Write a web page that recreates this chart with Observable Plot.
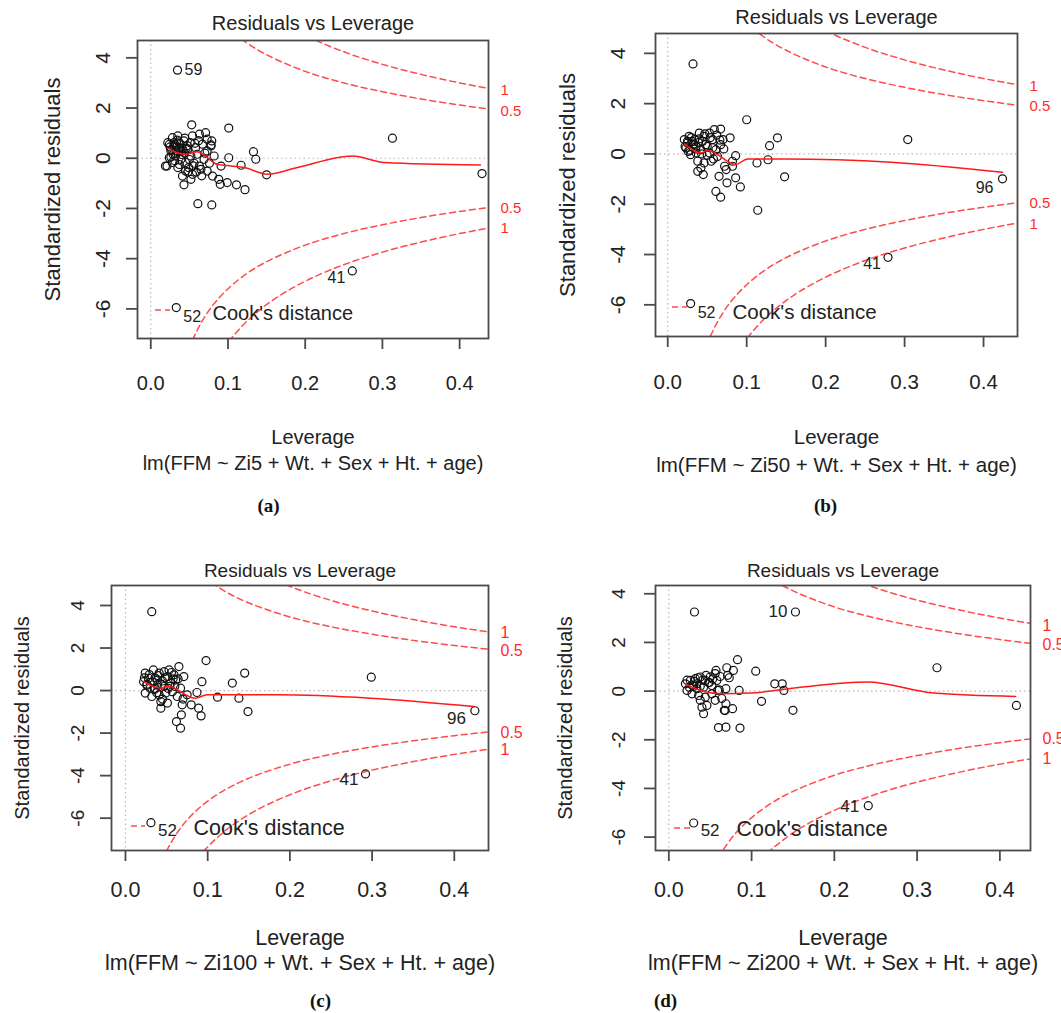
<!DOCTYPE html>
<html><head><meta charset="utf-8">
<script src="https://cdn.jsdelivr.net/npm/d3@7"></script>
<script src="https://cdn.jsdelivr.net/npm/@observablehq/plot@0.6"></script>
<style>
body{margin:0;background:#fff;}
#wrap{position:relative;width:1061px;height:1013px;overflow:hidden;background:#fff;}
.panel{position:absolute;}
</style></head><body><div id="wrap"></div>
<script>
// ---------- shared axis ticks ----------
const xTicks = [0, 0.1, 0.2, 0.3, 0.4];
const yTicks = [-6, -4, -2, 0, 2, 4];

// ---------- Cook's distance contours ----------
const cookH    = [0.045,0.05,0.06,0.07,0.08,0.09,0.10,0.11,0.12,0.14,0.16,0.18,0.20,0.25,0.30,0.35,0.40,0.445];
const cookHalf = [7.98,7.55,6.86,6.31,5.87,5.51,5.20,4.93,4.69,4.29,3.97,3.70,3.46,3.00,2.65,2.36,2.12,1.93];
const cookOne  = [11.29,10.68,9.70,8.92,8.31,7.79,7.35,6.97,6.63,6.07,5.61,5.23,4.90,4.24,3.74,3.34,3.00,2.74];
const cookLabels = ["1", "0.5", "0.5", "1"];
const cookLabelY = [2.74, 1.93, -1.93, -2.74];

// ---------- panel (a) ----------
const levA = [0.0346,0.053,0.101,0.313,0.133,0.136,0.101,0.117,0.150,0.429,0.043,0.061,0.079,0.099,0.111,0.122,0.090,0.261,0.033,0.078,
  0.021,0.022,0.028,0.035,0.043,0.054,0.063,0.071,0.073,0.078,0.067,0.058,0.048,0.039,0.030,0.026,0.032,0.039,0.045,0.049,
  0.045,0.054,0.065,0.073,0.080,0.088,0.069,0.082,0.091,0.035,0.041,0.052,0.063,0.024,0.028,0.060,0.052,0.073,0.079,0.019,
  0.025,0.031,0.037,0.042,0.047,0.036,0.044,0.050,0.057,0.033,0.040,0.046,0.056,0.062,
  0.024,0.027,0.030,0.033,0.036,0.038,0.041,0.029,0.034,0.026,0.031,0.037,0.044,0.048,0.051,0.055,0.059,0.066,0.070,0.076];
const resA = [3.51,1.33,1.20,0.80,0.26,-0.04,0.02,-0.28,-0.66,-0.61,-1.06,-1.81,-1.86,-0.97,-1.06,-1.25,-1.04,-4.49,-5.95,0.53,
  -0.31,0.62,0.82,0.89,0.69,0.89,0.96,1.02,0.76,0.49,0.56,0.42,0.36,0.29,0.49,0.29,0.09,-0.04,-0.17,-0.37,
  -0.51,-0.64,-0.44,-0.51,-0.71,-0.84,-0.04,0.09,-0.31,-0.37,-0.71,-0.84,-0.31,0.02,-0.17,0.16,0.09,0.29,0.69,-0.31,
  0.45,0.55,0.40,0.30,0.50,0.65,0.20,-0.05,0.60,0.30,0.15,0.40,-0.20,0.70,
  0.55,0.35,0.62,0.45,0.25,0.58,0.38,0.15,0.72,0.05,-0.10,-0.25,0.80,-0.55,0.62,-0.30,-0.55,-0.70,0.20,-0.20];
const loLevA = [0.022,0.034,0.045,0.060,0.086,0.104,0.121,0.151,0.190,0.261,0.302,0.427];
const loResA = [0.40,0.22,0.16,0.26,-0.24,-0.31,-0.37,-0.64,-0.37,0.09,-0.17,-0.27];
const idA    = ["59","52","41"];
const idLevA = [0.0346,0.033,0.261];
const idResA = [3.51,-5.95,-4.49];

// ---------- panel (b) ----------
const levB = [0.032,0.100,0.139,0.129,0.127,0.113,0.148,0.114,0.304,0.424,0.279,0.029,0.061,0.067,0.092,0.075,0.065,0.086,0.086,0.079,
  0.067,0.072,0.082,0.045,0.038,0.021,0.023,0.027,0.032,0.036,0.040,0.046,0.053,0.059,0.057,0.048,0.042,0.053,0.061,0.067,
  0.063,0.055,0.046,0.038,0.029,0.025,0.034,0.042,0.074,0.082,0.070,0.026,0.031,0.035,0.044,0.050,0.039,0.057,
  0.022,0.025,0.028,0.030,0.033,0.036,0.040,0.043,0.047,0.050,0.054,0.058,0.062,0.066,0.071];
const resB = [3.58,1.36,0.64,0.33,-0.23,-0.36,-0.91,-2.24,0.57,-0.99,-4.11,-5.95,-1.49,-1.72,-1.31,-1.15,-0.89,-0.95,-0.07,0.64,
  0.99,-0.49,-0.29,-0.82,-0.69,0.57,0.24,0.70,0.37,0.04,0.83,0.70,0.83,0.97,0.57,0.37,0.17,0.04,0.17,0.37,
  -0.10,-0.29,-0.36,-0.29,-0.03,0.44,0.57,-0.56,-0.62,-0.49,0.57,0.10,0.50,0.20,0.50,-0.05,0.45,0.25,
  0.30,0.50,0.15,0.65,0.40,0.30,0.60,0.00,0.80,0.30,0.65,-0.20,0.75,0.55,0.20];
const loLevB = [0.021,0.042,0.051,0.086,0.101,0.148,0.283,0.424];
const loResB = [0.40,0.04,0.14,-0.42,-0.20,-0.20,-0.33,-0.73];
const idB    = ["96","41","52"];
const idLevB = [0.424,0.279,0.029];
const idResB = [-0.99,-4.11,-5.95];

// ---------- panel (c) ----------
const levC = [0.032,0.098,0.145,0.130,0.138,0.112,0.149,0.093,0.092,0.089,0.087,0.080,0.068,0.062,0.067,0.069,0.065,0.071,0.299,0.425,
  0.292,0.031,0.022,0.024,0.028,0.034,0.041,0.047,0.053,0.059,0.061,0.055,0.047,0.039,0.030,0.024,0.032,0.041,0.049,0.057,
  0.063,0.043,0.043,0.051,0.075,0.039,0.051,0.067,0.026,0.036,0.045,0.054,0.035,0.058,
  0.023,0.026,0.029,0.033,0.036,0.040,0.044,0.048,0.052,0.056,0.060,0.064,0.070,0.045,0.038];
const resC = [3.71,1.41,0.82,0.35,-0.36,-0.31,-0.99,0.42,-1.19,-0.83,-0.09,-0.67,-1.14,-1.46,-1.77,-0.67,1.13,0.66,0.63,-0.95,
  -3.92,-6.21,0.42,0.82,0.58,0.97,0.82,0.89,0.97,0.74,0.50,0.35,0.19,0.27,0.11,-0.12,-0.28,-0.20,-0.12,-0.05,
  -0.28,-0.52,-0.83,-0.59,-0.20,0.50,0.66,0.11,0.30,0.60,0.45,0.20,0.05,0.55,
  0.60,0.25,0.75,0.40,0.10,0.70,0.30,0.60,0.10,0.85,0.20,0.55,-0.40,-0.40,-0.10];
const loLevC = [0.022,0.043,0.051,0.085,0.099,0.185,0.298,0.424];
const loResC = [0.42,0.11,0.22,-0.36,-0.20,-0.20,-0.36,-0.75];
const idC    = ["96","41","52"];
const idLevC = [0.425,0.292,0.031];
const idResC = [-0.95,-3.92,-6.21];

// ---------- panel (d) ----------
const levD = [0.031,0.153,0.083,0.105,0.324,0.128,0.137,0.139,0.112,0.150,0.420,0.241,0.030,0.086,0.069,0.060,0.042,0.067,0.077,0.069,
  0.085,0.069,0.078,0.070,0.071,0.020,0.022,0.026,0.032,0.038,0.044,0.050,0.056,0.058,0.052,0.042,0.034,0.028,0.036,0.044,
  0.038,0.046,0.052,0.059,0.034,0.040,0.056,0.048,0.030,0.062,
  0.022,0.025,0.028,0.031,0.035,0.038,0.041,0.045,0.049,0.053,0.057,0.061,0.064,0.068,0.073];
const resD = [3.25,3.25,1.29,0.82,0.96,0.30,0.30,0.03,-0.42,-0.79,-0.59,-4.71,-5.42,-1.52,-1.48,-1.50,-0.93,-0.79,-0.72,-0.52,
  0.03,0.10,0.85,0.96,0.65,0.30,0.03,0.44,0.51,0.58,0.44,0.58,0.72,0.44,0.23,0.16,0.10,-0.11,-0.18,-0.25,
  -0.38,-0.59,-0.11,0.03,0.30,-0.66,-0.38,0.35,0.20,0.60,
  0.45,0.15,0.25,0.40,0.55,0.20,0.45,0.65,0.35,0.50,0.85,0.05,-0.30,-0.80,0.55];
const loLevD = [0.020,0.038,0.063,0.099,0.159,0.240,0.320,0.419];
const loResD = [0.30,0.03,-0.11,-0.08,0.16,0.37,-0.08,-0.22];
const idD    = ["10","41","52"];
const idLevD = [0.153,0.241,0.030];
const idResD = [3.25,-4.71,-5.42];

const title = "Residuals vs Leverage";
const xTitle = "Leverage";
const yTitle = "Standardized residuals";
const legendText = "Cook's distance";
const formulas = ["lm(FFM ~ Zi5 + Wt. + Sex + Ht. + age)", "lm(FFM ~ Zi50 + Wt. + Sex + Ht. + age)",
                  "lm(FFM ~ Zi100 + Wt. + Sex + Ht. + age)", "lm(FFM ~ Zi200 + Wt. + Sex + Ht. + age)"];
const tags = ["(a)", "(b)", "(c)", "(d)"];

// ---------- layout (pixels) ----------
const panels = [
  {lev: levA, res: resA, lx: loLevA, ly: loResA, ids: idA, idx: idLevA, idy: idResA, formula: formulas[0], tag: tags[0],
   left: 0, top: 0, W: 530, H: 530, mL: 137, mR: 42, mT: 40, mB: 192,
   xDom: [-0.0172, 0.4374], yDom: [-7.18, 4.69],
   hf: 20, vf: 22, tf: 20, idf: 16, cf: 15,
   titleDy: -17, xlabDy: 45, levDy: 99, subDy: 125, tagDx: 131, tagDy: 167, ylabDx: -85, ytickDx: -34,
   legX1: 18, legX2: 33, legY: -28, legTx: 75, legTy: -25,
   idOff: [[7, 0, "start"], [7, 9, "start"], [-7, 7, "end"]]},
  {lev: levB, res: resB, lx: loLevB, ly: loResB, ids: idB, idx: idLevB, idy: idResB, formula: formulas[1], tag: tags[1],
   left: 530, top: 0, W: 531, H: 530, mL: 125, mR: 44, mT: 33, mB: 194,
   xDom: [-0.0155, 0.443], yDom: [-7.26, 4.79],
   hf: 20.5, vf: 22, tf: 20, idf: 16, cf: 15,
   titleDy: -16, xlabDy: 46, levDy: 101, subDy: 129, tagDx: 170, tagDy: 169, ylabDx: -88, ytickDx: -37,
   legX1: 17, legX2: 32, legY: -29, legTx: 77, legTy: -24,
   idOff: [[-9, 9, "end"], [-7, 7, "end"], [7, 9, "start"]]},
  {lev: levC, res: resC, lx: loLevC, ly: loResC, ids: idC, idx: idLevC, idy: idResC, formula: formulas[2], tag: tags[2],
   left: 0, top: 530, W: 530, H: 483, mL: 111, mR: 42, mT: 55, mB: 163,
   xDom: [-0.017, 0.4416], yDom: [-7.52, 4.94],
   hf: 21.5, vf: 20, tf: 19, idf: 17, cf: 16,
   titleDy: -15, xlabDy: 40, levDy: 88, subDy: 113, tagDx: 209, tagDy: 150, ylabDx: -89, ytickDx: -34,
   legX1: 20, legX2: 34, legY: -24, legTx: 82, legTy: -22,
   idOff: [[-9, 8, "end"], [-7, 6, "end"], [7, 8, "start"]]},
  {lev: levD, res: resD, lx: loLevD, ly: loResD, ids: idD, idx: idLevD, idy: idResD, formula: formulas[3], tag: tags[3],
   left: 530, top: 530, W: 531, H: 483, mL: 125, mR: 31, mT: 55, mB: 163,
   xDom: [-0.0161, 0.437], yDom: [-6.55, 4.34],
   hf: 21.5, vf: 20, tf: 19, idf: 17, cf: 16,
   titleDy: -15, xlabDy: 40, levDy: 88, subDy: 113, tagDx: 10, tagDy: 150, ylabDx: -90, ytickDx: -37,
   legX1: 19, legX2: 35, legY: -22, legTx: 81, legTy: -21,
   idOff: [[-8, 0, "end"], [-9, 1, "end"], [7, 8, "start"]]}
];

const FONT = "'Liberation Sans', Arial, sans-serif";
const INK = "#222";
const BOX = "#4a4a4a";
const RED = "#ff2b2b";

function makePanel(p) {
  const pts = p.lev.map((x, i) => ({x, y: p.res[i]}));
  const lo = p.lx.map((x, i) => ({x, y: p.ly[i]}));
  const cook = cookH.map((h, i) => ({h, a: cookHalf[i], b: cookOne[i]}));
  const dashStyle = {stroke: RED, strokeWidth: 1.5, strokeDasharray: "6,4", strokeOpacity: 0.85, curve: "monotone-x", clip: true};
  const idMarks = p.ids.map((lab, i) => Plot.text([lab], {
    x: () => p.idx[i], y: () => p.idy[i], text: d => d,
    dx: p.idOff[i][0], dy: p.idOff[i][1], textAnchor: p.idOff[i][2], fontSize: p.idf, fill: INK}));
  const mid = {lineAnchor: "middle"};
  const svg = Plot.plot({
    width: p.W, height: p.H,
    marginLeft: p.mL, marginRight: p.mR, marginTop: p.mT, marginBottom: p.mB,
    x: {domain: p.xDom}, y: {domain: p.yDom},
    style: {fontFamily: FONT, color: INK, background: "transparent", overflow: "visible"},
    marks: [
      Plot.ruleY([0], {stroke: "#b8b8b8", strokeDasharray: "1.5,3", strokeWidth: 1.2}),
      Plot.ruleX([0], {stroke: "#b8b8b8", strokeDasharray: "1.5,3", strokeWidth: 1.2}),
      Plot.dot(pts, {x: "x", y: "y", r: 4, stroke: "#111", strokeWidth: 1.2, fill: "none"}),
      Plot.line(lo, {x: "x", y: "y", stroke: "#ff1a1a", strokeWidth: 1.5, curve: "monotone-x"}),
      Plot.line(cook, {x: "h", y: "a", ...dashStyle}),
      Plot.line(cook, {x: "h", y: d => -d.a, ...dashStyle}),
      Plot.line(cook, {x: "h", y: "b", ...dashStyle}),
      Plot.line(cook, {x: "h", y: d => -d.b, ...dashStyle}),
      Plot.text(cookLabelY, {y: d => d, text: (d, i) => cookLabels[i], frameAnchor: "right", textAnchor: "start", ...mid, dx: 12, dy: 1, fill: RED, fontSize: p.cf}),
      Plot.frame({stroke: BOX, strokeWidth: 1.8}),
      Plot.axisX({ticks: xTicks, tickSize: 11, tickFormat: () => "", label: null, stroke: BOX, strokeWidth: 1.8}),
      Plot.axisY({ticks: yTicks, tickSize: 11, tickFormat: () => "", label: null, stroke: BOX, strokeWidth: 1.8}),
      Plot.text(xTicks, {x: d => d, frameAnchor: "bottom", ...mid, dy: p.xlabDy, text: d => d.toFixed(1), fontSize: p.hf, fill: INK}),
      Plot.text(yTicks, {y: d => d, frameAnchor: "left", textAnchor: "middle", ...mid, dx: p.ytickDx, rotate: -90, text: d => String(d), fontSize: p.vf - 1, fill: INK}),
      Plot.text([title], {frameAnchor: "top", ...mid, dy: p.titleDy, text: d => d, fontSize: p.tf, fill: INK}),
      Plot.text([xTitle], {frameAnchor: "bottom", ...mid, dy: p.levDy, text: d => d, fontSize: p.hf, fill: INK}),
      Plot.text([p.formula], {frameAnchor: "bottom", ...mid, dy: p.subDy, text: d => d, fontSize: p.hf, fill: INK}),
      Plot.text([p.tag], {frameAnchor: "bottom-left", textAnchor: "middle", ...mid, dx: p.tagDx, dy: p.tagDy, text: d => d, fontSize: 19, fontWeight: "bold",
        fontFamily: "'Liberation Serif', 'Times New Roman', serif", fill: "#111"}),
      Plot.text([yTitle], {frameAnchor: "left", textAnchor: "middle", ...mid, dx: p.ylabDx, rotate: -90, text: d => d, fontSize: p.vf, fill: INK}),
      Plot.text([legendText], {frameAnchor: "bottom-left", ...mid, dx: p.legTx, dy: p.legTy, textAnchor: "start", text: d => d, fontSize: p.hf, fill: INK}),
      ...idMarks
    ]
  });
  // legend key: short dashed red segment
  d3.select(svg).append("line")
    .attr("x1", p.mL + p.legX1).attr("x2", p.mL + p.legX2)
    .attr("y1", p.H - p.mB + p.legY).attr("y2", p.H - p.mB + p.legY)
    .attr("stroke", RED).attr("stroke-width", 1.5).attr("stroke-dasharray", "6,4").attr("stroke-opacity", 0.85);
  const div = document.createElement("div");
  div.className = "panel";
  div.style.left = p.left + "px";
  div.style.top = p.top + "px";
  div.appendChild(svg);
  return div;
}

const wrap = document.getElementById("wrap");
panels.forEach(p => wrap.appendChild(makePanel(p)));
</script>
</body></html>
